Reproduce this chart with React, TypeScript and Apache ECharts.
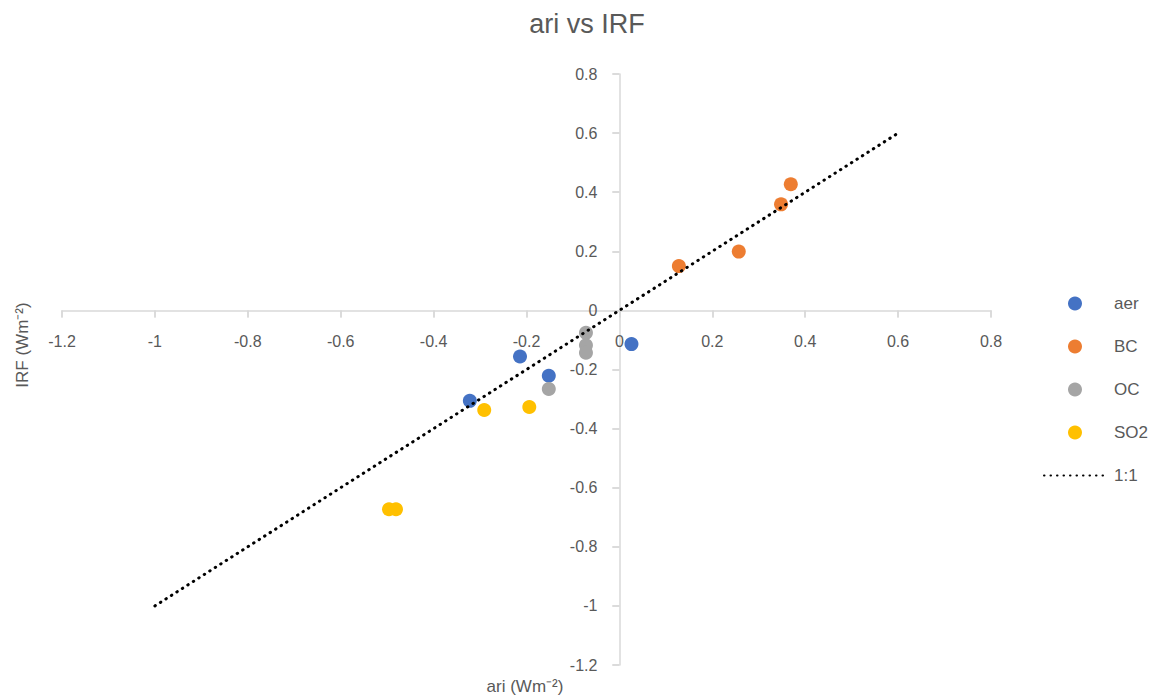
import React, { useEffect, useRef } from "react";
import * as echarts from "echarts";

const titleText = "ari vs IRF";
const xName = "ari (Wm⁻²)";
const yName = "IRF (Wm⁻²)";

const aer: number[][] = [
  [-0.322, -0.306],
  [-0.214, -0.156],
  [-0.152, -0.221],
  [0.026, -0.114],
];
const bc: number[][] = [
  [0.128, 0.15],
  [0.257, 0.199],
  [0.348, 0.359],
  [0.369, 0.427],
];
const oc: number[][] = [
  [-0.072, -0.076],
  [-0.072, -0.118],
  [-0.072, -0.143],
  [-0.152, -0.266],
];
const so2: number[][] = [
  [-0.291, -0.337],
  [-0.194, -0.327],
  [-0.496, -0.673],
  [-0.481, -0.673],
];
const oneToOne: number[][] = [
  [-1, -1],
  [0.6, 0.6],
];

const colors = { aer: "#4472C4", bc: "#ED7D31", oc: "#A5A5A5", so2: "#FFC000" };
const FONT = "Liberation Sans";
const TXT = "#595959";
const AX = "#D9D9D9";

const GRID = { left: 62, right: 166, top: 74, bottom: 34 };
const W = 1157;
const H = 699;

export default function App() {
  const ref = useRef<HTMLDivElement>(null);
  useEffect(() => {
    document.body.style.margin = "0";
    const chart = echarts.init(ref.current!, null, { renderer: "svg" });
    const plotW = W - GRID.left - GRID.right;
    const plotH = H - GRID.top - GRID.bottom;
    // pixel positions of the zero lines, used only to move the tick labels next to them
    const zeroY = GRID.top + (0.8 / 2.0) * plotH;
    const zeroX = GRID.left + (1.2 / 2.0) * plotW;
    const xLabelMargin = zeroY + 23 - (H - GRID.bottom);
    const yLabelMargin = 22 - (zeroX - GRID.left);

    const axisCommon = (inside: boolean, showLabel: boolean, showLine: boolean, margin: number) => ({
      type: "value" as const,
      min: -1.2,
      max: 0.8,
      interval: 0.2,
      splitLine: { show: false },
      axisLine: {
        show: showLine,
        onZero: true,
        onZeroAxisIndex: 0,
        lineStyle: { color: AX, width: 1.5 },
      },
      axisTick: { show: true, inside, length: 7, lineStyle: { color: AX, width: 1.5 } },
      axisLabel: {
        show: showLabel,
        color: TXT,
        fontSize: 16,
        fontFamily: FONT,
        margin,
        hideOverlap: false,
        formatter: (v: number) => String(Math.round(v * 10) / 10),
      },
    });
    const scatter = (name: string, data: number[][], color: string) => ({
      name,
      type: "scatter" as const,
      data,
      symbol: "circle",
      symbolSize: 14,
      itemStyle: { color, opacity: 1 },
      xAxisIndex: 0,
      yAxisIndex: 0,
      z: 3,
    });
    chart.setOption({
      animation: false,
      grid: { ...GRID, containLabel: false, outerBoundsMode: "none" },
      xAxis: [
        axisCommon(false, true, true, xLabelMargin),
        axisCommon(true, false, false, 8),
      ],
      yAxis: [
        axisCommon(false, true, true, yLabelMargin),
        axisCommon(true, false, false, 8),
      ],
      legend: {
        orient: "vertical",
        left: 1043,
        top: 295,
        padding: 0,
        itemGap: 26,
        itemWidth: 62,
        itemHeight: 14,
        textStyle: { color: TXT, fontSize: 17, fontFamily: FONT, padding: [0, 0, 0, 3] },
        data: [
          { name: "aer", icon: "circle" },
          { name: "BC", icon: "circle" },
          { name: "OC", icon: "circle" },
          { name: "SO2", icon: "circle" },
          { name: "1:1", itemStyle: { opacity: 0 } },
        ],
      },
      graphic: [
        {
          type: "text",
          x: 587,
          y: 24,
          style: {
            text: titleText,
            fill: TXT,
            fontSize: 27,
            fontFamily: FONT,
            align: "center",
            verticalAlign: "middle",
          },
        },
        {
          type: "text",
          x: 525,
          y: 686,
          style: {
            text: xName,
            fill: TXT,
            fontSize: 17,
            fontFamily: FONT,
            align: "center",
            verticalAlign: "middle",
          },
        },
        {
          type: "text",
          x: 22,
          y: 345,
          rotation: Math.PI / 2,
          style: {
            text: yName,
            fill: TXT,
            fontSize: 17,
            fontFamily: FONT,
            align: "center",
            verticalAlign: "middle",
          },
        },
      ],
      series: [
        scatter("aer", aer, colors.aer),
        scatter("BC", bc, colors.bc),
        scatter("OC", oc, colors.oc),
        scatter("SO2", so2, colors.so2),
        {
          name: "1:1",
          type: "line",
          data: oneToOne,
          symbol: "none",
          showSymbol: false,
          color: "#000000",
          lineStyle: { color: "#000000", width: 3, type: [0.5, 6], cap: "round" },
          xAxisIndex: 0,
          yAxisIndex: 0,
          z: 4,
        },
      ],
    });
    return () => chart.dispose();
  }, []);
  return <div ref={ref} style={{ width: W, height: H }} />;
}
